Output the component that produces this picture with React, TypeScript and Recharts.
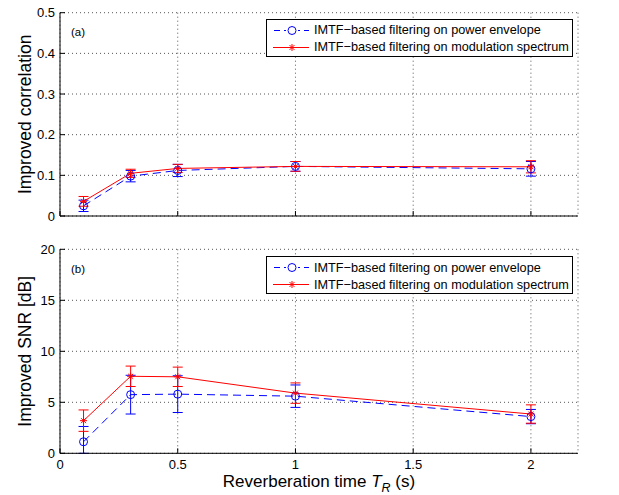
import React from 'react';
import { LineChart, Line, XAxis, YAxis, CartesianGrid, ErrorBar } from 'recharts';

// reverberation times (s)
const reverbTimes = [0.1, 0.3, 0.5, 1, 2];

// (a) improved correlation
const corrPowerEnv = [0.025, 0.098, 0.112, 0.122, 0.116];
const corrPowerEnvErr = [0.014, 0.014, 0.015, 0.012, 0.018];
const corrModSpec = [0.036, 0.105, 0.117, 0.122, 0.121];
const corrModSpecErr = [0.012, 0.01, 0.01, 0.012, 0.015];

// (b) improved SNR [dB] - first blue bar runs down to the axis
const snrPowerEnv = [1.13, 5.75, 5.8, 5.6, 3.6];
const snrPowerEnvErr: (number | number[])[] = [[1.13, 1.5], 1.9, 1.8, 1.1, 0.7];
const snrModSpec = [3.2, 7.55, 7.5, 5.9, 3.85];
const snrModSpecErr = [1.05, 1.0, 0.95, 1.0, 0.9];

const xTicks = [0, 0.5, 1, 1.5, 2];
const corrTicks = [0, 0.1, 0.2, 0.3, 0.4, 0.5];
const snrTicks = [0, 5, 10, 15, 20];
const legendLabels = [
  'IMTF\u2212based filtering on power envelope',
  'IMTF\u2212based filtering on modulation spectrum',
];

const FONT = '"Liberation Sans", Arial, Helvetica, sans-serif';
const BLUE = '#0000ff';
const RED = '#ff0000';

const buildRows = (a: number[], aErr: any[], b: number[], bErr: any[]) =>
  reverbTimes.map((t, i) => ({ t, power: a[i], powerErr: aErr[i], mod: b[i], modErr: bErr[i] }));

const corrData = buildRows(corrPowerEnv, corrPowerEnvErr, corrModSpec, corrModSpecErr);
const snrData = buildRows(snrPowerEnv, snrPowerEnvErr, snrModSpec, snrModSpecErr);

// matlab style ticks point inward
const BottomTick = ({ x, y, payload, showLabel }: any) => (
  <g>
    <line x1={x} x2={x} y1={y} y2={y - 5} stroke="#000" />
    {showLabel && (
      <text x={x} y={y + 16} textAnchor="middle" fontSize={13} fontFamily={FONT} fill="#000">
        {payload.value}
      </text>
    )}
  </g>
);

const TopTick = ({ x, y }: any) => <line x1={x} x2={x} y1={y} y2={y + 5} stroke="#000" />;

const LeftTick = ({ x, y, payload }: any) => (
  <g>
    <line x1={x} x2={x + 5} y1={y} y2={y} stroke="#000" />
    <text x={x - 5} y={y + 4.5} textAnchor="end" fontSize={13} fontFamily={FONT} fill="#000">
      {payload.value}
    </text>
  </g>
);

const RightTick = ({ x, y }: any) => <line x1={x} x2={x - 5} y1={y} y2={y} stroke="#000" />;

const YTitle = ({ viewBox, text }: any) => {
  const cx = viewBox.x + 31;
  const cy = viewBox.y + viewBox.height / 2;
  return (
    <text x={cx} y={cy} transform={`rotate(-90 ${cx} ${cy})`} textAnchor="middle" fontSize={17.5} fontFamily={FONT} fill="#000">
      {text}
    </text>
  );
};

const XTitle = ({ viewBox }: any) => (
  <text x={viewBox.x + viewBox.width / 2} y={viewBox.y + 34} textAnchor="middle" fontSize={17} fontFamily={FONT} fill="#000">
    <tspan>Reverberation time </tspan>
    <tspan fontStyle="italic">T</tspan>
    <tspan fontStyle="italic" fontSize={12.5} dy={5}>R</tspan>
    <tspan dy={-5}> (s)</tspan>
  </text>
);

const CircleDot = ({ cx, cy }: any) => (
  <circle cx={cx} cy={cy} r={4} fill="none" stroke={BLUE} strokeWidth={1} />
);

const StarDot = ({ cx, cy }: any) => {
  const r = 3.5;
  const d = r * 0.707;
  return (
    <g stroke={RED} strokeWidth={1}>
      <line x1={cx - r} y1={cy} x2={cx + r} y2={cy} />
      <line x1={cx} y1={cy - r} x2={cx} y2={cy + r} />
      <line x1={cx - d} y1={cy - d} x2={cx + d} y2={cy + d} />
      <line x1={cx - d} y1={cy + d} x2={cx + d} y2={cy - d} />
    </g>
  );
};

const LegendBox = ({ top }: { top: number }) => (
  <div
    style={{
      position: 'absolute',
      left: 266,
      top,
      width: 305,
      height: 36,
      border: '1px solid #000',
      background: '#fff',
      fontFamily: FONT,
      fontSize: 12.7,
    }}
  >
    {legendLabels.map((label, i) => (
      <div key={label} style={{ display: 'flex', alignItems: 'center', height: 17, marginTop: i === 0 ? 2 : 0 }}>
        <svg width={47} height={17} style={{ flex: 'none' }}>
          {i === 0 ? (
            <>
              <line x1={6} x2={42} y1={8.5} y2={8.5} stroke={BLUE} strokeDasharray="6 4" strokeDashoffset={-1} />
              <rect x={19} y={3} width={12} height={11} fill="#fff" />
              <CircleDot cx={25} cy={8.5} />
            </>
          ) : (
            <>
              <line x1={6} x2={42} y1={8.5} y2={8.5} stroke={RED} />
              <StarDot cx={25} cy={8.5} />
            </>
          )}
        </svg>
        <span style={{ whiteSpace: 'nowrap' }}>{label}</span>
      </div>
    ))}
  </div>
);

const PanelTag = ({ top, text }: { top: number; text: string }) => (
  <div style={{ position: 'absolute', left: 71, top, fontFamily: FONT, fontSize: 11.5 }}>{text}</div>
);

interface PanelProps {
  data: typeof corrData;
  height: number;
  top: number;
  bottom: number;
  yDomain: [number, number];
  yTicks: number[];
  yTitle: string;
  showXLabels: boolean;
}

const Panel = ({ data, height, top, bottom, yDomain, yTicks, yTitle, showXLabels }: PanelProps) => (
  <LineChart width={619} height={height} data={data} margin={{ top, right: 41, bottom: 0, left: 0 }}>
    <CartesianGrid stroke="#555" strokeDasharray="1 3" />
    <XAxis
      dataKey="t"
      type="number"
      domain={[0, 2.2]}
      ticks={xTicks}
      allowDataOverflow
      height={bottom}
      tickSize={0}
      tickMargin={0}
      tickLine={false}
      axisLine={{ stroke: '#000' }}
      tick={<BottomTick showLabel={showXLabels} />}
      label={showXLabels ? <XTitle /> : undefined}
    />
    <XAxis
      xAxisId="top"
      orientation="top"
      type="number"
      domain={[0, 2.2]}
      ticks={xTicks}
      allowDataOverflow
      height={0}
      tickSize={0}
      tickMargin={0}
      tickLine={false}
      axisLine={{ stroke: '#000' }}
      tick={<TopTick />}
    />
    <YAxis
      type="number"
      domain={yDomain}
      ticks={yTicks}
      allowDataOverflow
      width={60}
      tickSize={0}
      tickMargin={0}
      tickLine={false}
      axisLine={{ stroke: '#000' }}
      tick={<LeftTick />}
      label={<YTitle text={yTitle} />}
    />
    <YAxis
      yAxisId="right"
      orientation="right"
      type="number"
      domain={yDomain}
      ticks={yTicks}
      allowDataOverflow
      width={0}
      tickSize={0}
      tickMargin={0}
      tickLine={false}
      axisLine={{ stroke: '#000' }}
      tick={<RightTick />}
    />
    <Line
      dataKey="power"
      stroke={BLUE}
      strokeWidth={1}
      strokeDasharray="8 5"
      dot={<CircleDot />}
      activeDot={false}
      isAnimationActive={false}
    >
      <ErrorBar dataKey="powerErr" width={5} stroke={BLUE} strokeWidth={1} isAnimationActive={false} />
    </Line>
    <Line
      dataKey="mod"
      stroke={RED}
      strokeWidth={1}
      dot={<StarDot />}
      activeDot={false}
      isAnimationActive={false}
    >
      <ErrorBar dataKey="modErr" width={5} stroke={RED} strokeWidth={1} isAnimationActive={false} />
    </Line>
  </LineChart>
);

export default function App() {
  return (
    <div style={{ position: 'relative', width: 619, height: 495, background: '#fff', overflow: 'hidden' }}>
      <style>{'body{margin:0}'}</style>
      <Panel
        data={corrData}
        height={232}
        top={12.7}
        bottom={16}
        yDomain={[0, 0.5]}
        yTicks={corrTicks}
        yTitle="Improved correlation"
        showXLabels={false}
      />
      <Panel
        data={snrData}
        height={263}
        top={17.3}
        bottom={41.7}
        yDomain={[0, 20]}
        yTicks={snrTicks}
        yTitle="Improved SNR [dB]"
        showXLabels
      />
      <PanelTag top={26} text="(a)" />
      <PanelTag top={263} text="(b)" />
      <LegendBox top={18.5} />
      <LegendBox top={256} />
    </div>
  );
}
